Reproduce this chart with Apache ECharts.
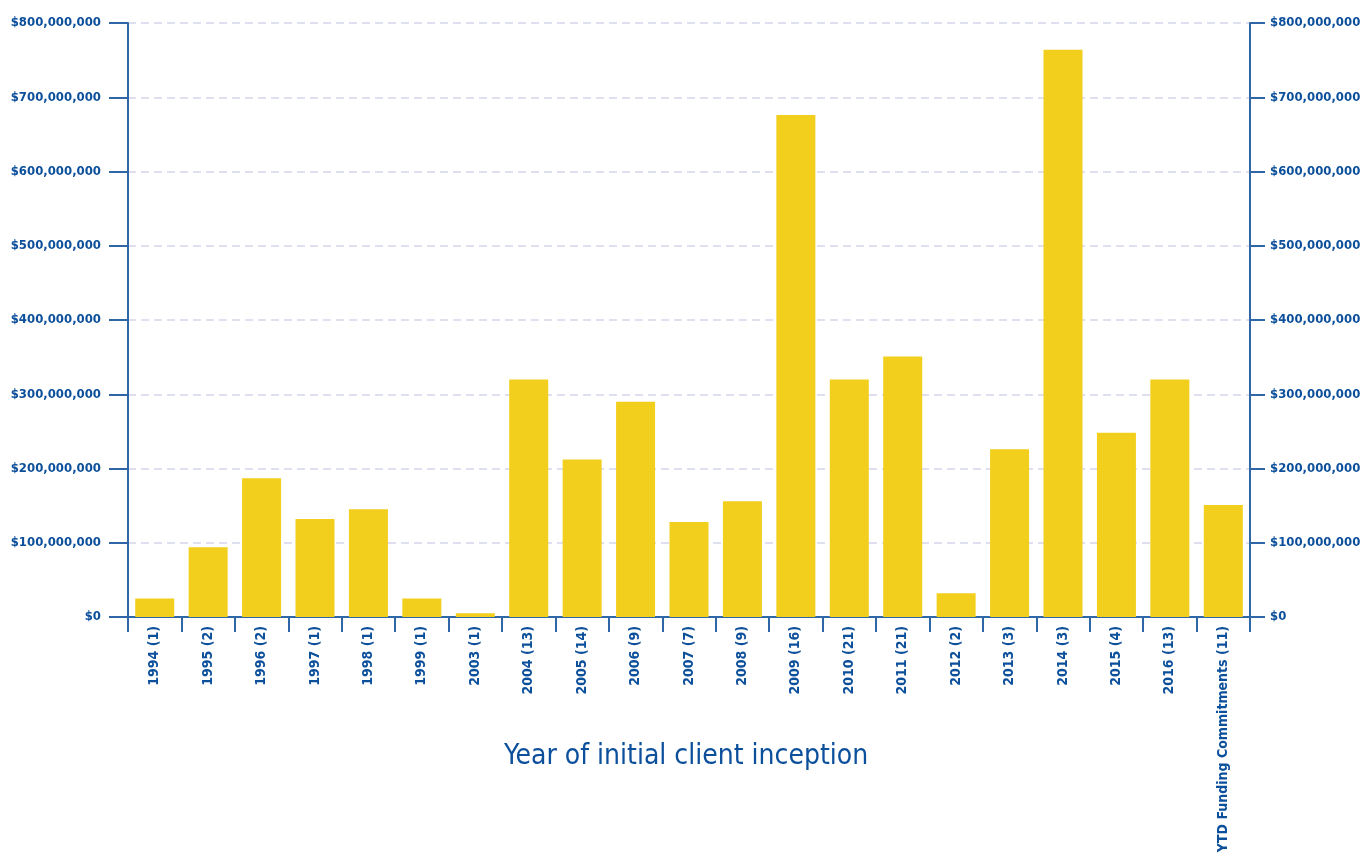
<!DOCTYPE html>
<html>
<head>
<meta charset="utf-8">
<title>Funding by year of initial client inception</title>
<script src="https://cdn.jsdelivr.net/npm/echarts@6/dist/echarts.min.js"></script>
<style>
  html, body { margin: 0; padding: 0; background: #ffffff; }
  #chart { width: 1365px; height: 856px; }
</style>
</head>
<body>
<div id="chart"></div>
<script>
// Categories: year of initial client inception (number of clients)
const categories = [
  '1994 (1)', '1995 (2)', '1996 (2)', '1997 (1)', '1998 (1)', '1999 (1)', '2003 (1)',
  '2004 (13)', '2005 (14)', '2006 (9)', '2007 (7)', '2008 (9)', '2009 (16)', '2010 (21)',
  '2011 (21)', '2012 (2)', '2013 (3)', '2014 (3)', '2015 (4)', '2016 (13)',
  'YTD Funding Commitments (11)'
];

// Funding amount per category, in dollars
const amounts = [
  25000000, 94000000, 187000000, 132000000, 145000000, 25000000, 5000000,
  320000000, 212000000, 290000000, 128000000, 156000000, 676000000, 320000000,
  351000000, 32000000, 226000000, 764000000, 248000000, 320000000,
  151000000
];

// Value axis range and step
const axisMin = 0;
const axisMax = 800000000;
const axisStep = 100000000;

const axisTitle = 'Year of initial client inception';

const FONT = '"Liberation Sans Narrow", "DejaVu Sans Condensed", sans-serif';
const TEXT_BLUE = '#0c4f9b';
const AXIS_BLUE = '#2e66a6';
const BAR_YELLOW = '#f2cf1c';

function money(v) {
  return '$' + Math.round(v).toString().replace(/\B(?=(\d{3})+(?!\d))/g, ',');
}

function valueAxis(position, showGrid, tickLen, labelMargin) {
  return {
    type: 'value',
    position: position,
    min: axisMin,
    max: axisMax,
    interval: axisStep,
    axisLine: { show: true, lineStyle: { color: AXIS_BLUE, width: 2 } },
    axisTick: { show: true, length: tickLen, lineStyle: { color: AXIS_BLUE, width: 2 } },
    axisLabel: {
      margin: labelMargin,
      color: TEXT_BLUE,
      fontFamily: FONT,
      fontWeight: 'bold',
      fontSize: 13,
      formatter: money
    },
    splitLine: {
      show: showGrid,
      lineStyle: { color: '#d3d6ec', width: 1.5, type: [8, 5] }
    }
  };
}

const chart = echarts.init(document.getElementById('chart'), null, { renderer: 'canvas' });

chart.setOption({
  animation: false,
  backgroundColor: '#ffffff',
  grid: { left: 128, right: 115, top: 23, bottom: 239, containLabel: false, outerBoundsMode: 'none' },
  xAxis: {
    type: 'category',
    data: categories,
    boundaryGap: true,
    axisLine: { show: true, onZero: false, lineStyle: { color: AXIS_BLUE, width: 2 } },
    axisTick: { show: true, length: 15, alignWithLabel: false, lineStyle: { color: AXIS_BLUE, width: 2 } },
    axisLabel: {
      rotate: 90,
      interval: 0,
      margin: 9,
      color: TEXT_BLUE,
      fontFamily: FONT,
      fontWeight: 'bold',
      fontSize: 14
    },
    splitLine: { show: false }
  },
  yAxis: [valueAxis('left', true, 19, 27), valueAxis('right', false, 15, 20)],
  // Category axis title, centred under the plot
  graphic: [{
    type: 'text',
    x: 686,
    y: 757,
    silent: true,
    style: {
      text: axisTitle,
      align: 'center',
      verticalAlign: 'middle',
      fill: TEXT_BLUE,
      fontFamily: FONT,
      fontSize: 28,
      fontWeight: 'normal'
    }
  }],
  series: [{
    type: 'bar',
    data: amounts,
    yAxisIndex: 0,
    barCategoryGap: '27%',
    itemStyle: { color: BAR_YELLOW },
    emphasis: { disabled: true }
  }]
});
</script>
</body>
</html>
